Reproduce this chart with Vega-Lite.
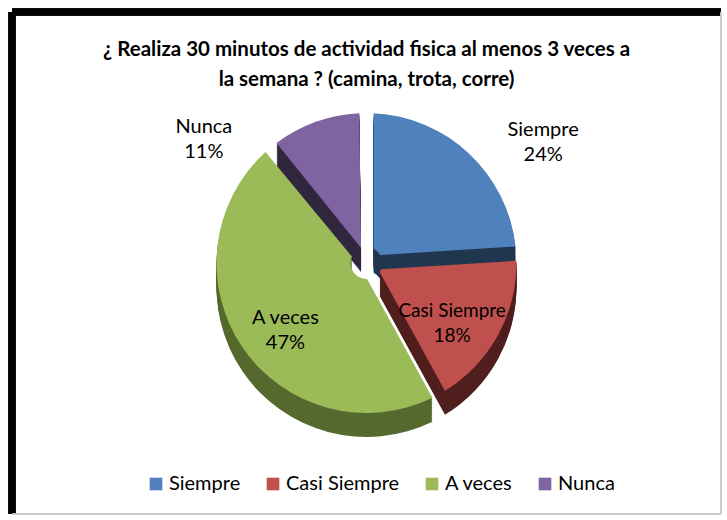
{
  "$schema": "https://vega.github.io/schema/vega-lite/v6.json",
  "width": 727,
  "height": 520,
  "autosize": {"type": "fit", "contains": "padding"},
  "padding": {"left": 8, "top": 8, "right": 2, "bottom": 2},
  "background": "white",
  "config": {"view": {"stroke": null}, "arc": {"radius": 150, "innerRadius": 16, "padAngle": 0.095}},
  "title": {
    "text": ["¿ Realiza 30 minutos de actividad fisica al menos 3 veces a", "la semana ? (camina, trota, corre)"],
    "font": "Lato",
    "fontSize": 20.5,
    "fontWeight": "bold",
    "color": "#000000",
    "lineHeight": 30,
    "anchor": "middle",
    "offset": -82
  },
  "data": {
    "values": [
      {"cat": "Siempre", "value": 24, "o": 1, "label": "Siempre\n24%"},
      {"cat": "Casi Siempre", "value": 18, "o": 2, "label": "Casi Siempre\n18%"},
      {"cat": "A veces", "value": 47, "o": 3, "label": "A veces\n47%"},
      {"cat": "Nunca", "value": 11, "o": 4, "label": "Nunca\n11%"}
    ]
  },
  "layer": [
    {
      "encoding": {
        "theta": {"field": "value", "type": "quantitative", "stack": true, "scale": {"domain": [0, 100]}},
        "order": {"field": "o", "type": "quantitative"},
        "color": {
          "field": "cat",
          "type": "nominal",
          "scale": {"domain": ["Siempre", "Casi Siempre", "A veces", "Nunca"], "range": ["#4F81BD", "#C0504D", "#9BBB59", "#8064A2"]},
          "legend": {
            "title": null,
            "orient": "none",
            "direction": "horizontal",
            "legendX": 134,
            "legendY": 462,
            "symbolType": "square",
            "symbolSize": 160,
            "symbolOpacity": 1,
            "symbolStrokeWidth": 0,
            "labelFont": "Lato",
            "labelFontSize": 20,
            "labelColor": "#000000",
            "labelOffset": 3,
            "columnPadding": 22
          }
        }
      },
      "layer": [
        {
          "encoding": {
            "fill": {
              "field": "o",
              "type": "nominal",
              "scale": {"domain": [1, 2, 3, 4], "range": ["#21364F", "#501F1E", "#56692E", "#30273F"]},
              "legend": null
            }
          },
          "layer": [
            {"mark": {"type": "arc", "yOffset": 24}},
            {"mark": {"type": "arc", "yOffset": 22}},
            {"mark": {"type": "arc", "yOffset": 20}},
            {"mark": {"type": "arc", "yOffset": 18}},
            {"mark": {"type": "arc", "yOffset": 16}},
            {"mark": {"type": "arc", "yOffset": 14}},
            {"mark": {"type": "arc", "yOffset": 12}},
            {"mark": {"type": "arc", "yOffset": 10}},
            {"mark": {"type": "arc", "yOffset": 8}},
            {"mark": {"type": "arc", "yOffset": 6}},
            {"mark": {"type": "arc", "yOffset": 4}},
            {"mark": {"type": "arc", "yOffset": 2}}
          ]
        },
        {"mark": {"type": "arc"}},
        {
          "mark": {"type": "text", "radius": 185, "dx": 50, "dy": 2, "font": "Lato", "fontSize": 20, "lineBreak": "\n", "lineHeight": 25},
          "encoding": {"fill": {"value": "#000000"}, "text": {"condition": {"test": "datum.o == 1", "field": "label"}, "value": ""}}
        },
        {
          "mark": {"type": "text", "radius": 185, "dx": -100, "dy": 38, "font": "Lato", "fontSize": 20, "lineBreak": "\n", "lineHeight": 25},
          "encoding": {"fill": {"value": "#000000"}, "text": {"condition": {"test": "datum.o == 4", "field": "label"}, "value": ""}}
        },
        {
          "mark": {"type": "text", "radius": 100, "dx": -2, "font": "Lato", "fontSize": 19, "lineBreak": "\n", "lineHeight": 25},
          "encoding": {"fill": {"value": "#000000"}, "text": {"condition": {"test": "datum.o == 2", "field": "label"}, "value": ""}}
        },
        {
          "mark": {"type": "text", "radius": 98, "font": "Lato", "fontSize": 20, "lineBreak": "\n", "lineHeight": 25},
          "encoding": {"fill": {"value": "#000000"}, "text": {"condition": {"test": "datum.o == 3", "field": "label"}, "value": ""}}
        }
      ]
    },
    {
      "mark": {"type": "rule", "color": "black", "strokeWidth": 7},
      "encoding": {"y": {"datum": 1, "type": "quantitative", "scale": {"domain": [0, 1], "nice": false}, "axis": null}}
    },
    {
      "mark": {"type": "rule", "color": "black", "strokeWidth": 7},
      "encoding": {"x": {"datum": 0, "type": "quantitative", "scale": {"domain": [0, 1], "nice": false}, "axis": null}}
    },
    {
      "mark": {"type": "rule", "color": "#c8c8c8", "strokeWidth": 1},
      "encoding": {"y": {"datum": 0, "type": "quantitative", "scale": {"domain": [0, 1], "nice": false}, "axis": null}}
    },
    {
      "mark": {"type": "rule", "color": "#c8c8c8", "strokeWidth": 1},
      "encoding": {"x": {"datum": 1, "type": "quantitative", "scale": {"domain": [0, 1], "nice": false}, "axis": null}}
    }
  ]
}
